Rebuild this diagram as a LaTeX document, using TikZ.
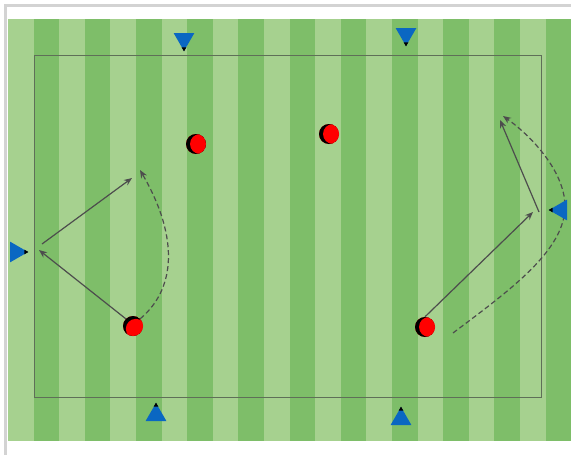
\documentclass[tikz,border=0pt]{standalone}
\usepackage{tikz}
\usetikzlibrary{arrows.meta,positioning,shapes.geometric,calc}
\definecolor{pitchLight}{HTML}{A6D18F}
\definecolor{pitchDark}{HTML}{7EBE69}
\definecolor{coneBlue}{HTML}{0A67C2}
\definecolor{runGray}{HTML}{4D4D4D}
\definecolor{frameGray}{HTML}{D3D3D3}
\definecolor{lineGray}{HTML}{5F6F58}
\tikzset{
    % Players and cones
    redplayer/.style={circle, fill=red, minimum size=20pt, inner sep=0pt,
        path picture={\fill[black] (path picture bounding box.center) circle (10pt);
            \fill[red] ([shift={(#1:4pt)}]path picture bounding box.center) circle (10pt);}},
    cone/.style={regular polygon, regular polygon sides=3, fill=coneBlue, minimum size=24pt, inner sep=0pt, shape border rotate=#1},
    % Runs
    run/.style={draw=runGray, line width=1.2pt, -{Stealth[length=8pt,width=6.5pt]}},
    dribble/.style={run, dash pattern=on 5pt off 3pt}
}

\begin{document}
\begin{tikzpicture}[x=1pt, y=-1pt]

    % Frame
    \useasboundingbox[fill=white] (0,0) rectangle (571,455);
    \draw[frameGray, line width=3pt] (5,455) -- (5,5) -- (571,5);

    % Pitch stripes
    \foreach \i in {0,...,21}{
        \pgfmathsetmacro{\xa}{8+25.6*\i}
        \ifodd\i \def\stripe{pitchDark}\else \def\stripe{pitchLight}\fi
        \fill[\stripe] (\xa,19) rectangle ++(25.6,422);
    }
    \draw[lineGray, line width=0.8pt] (34,55) rectangle (541,397);

    % Players
    \node[redplayer=0] (pt1) at (196,144) {};
    \node[redplayer=0] (pt2) at (329,134) {};
    \node[redplayer=-45] (pl) at (133,326) {};
    \node[redplayer=0] (pr) at (425,327) {};

    % Run targets
    \coordinate (lwall) at (39,250);
    \coordinate (lturn) at (42,244);
    \coordinate (ltarget) at (132,178);
    \coordinate (lcurl) at (140,170);
    \coordinate (rstart) at (453,333);
    \coordinate (rturn) at (533,212);
    \coordinate (rturn2) at (539,212);
    \coordinate (rtarget) at (500,120);
    \coordinate (rcurl) at (503,116);

    % Left drill
    \draw[run] (pl.north west) -- (lwall);
    \draw[run] (lturn) -- (ltarget);
    \draw[dribble] (pl.north east) .. controls (180,285) and (175,230) .. (lcurl);

    % Right drill
    \draw[run] (pr.north) -- (rturn);
    \draw[run] (rturn2) -- (rtarget);
    \draw[dribble] (rstart) .. controls (510,290) and (566,250) .. (565,205)
        .. controls (564,170) and (530,135) .. (rcurl);

    % Cones
    \node[cone=180] (ct1) at (184,39) {};
    \node[cone=180] (ct2) at (406,34) {};
    \node[cone=-90] (cl) at (16,252) {};
    \node[cone=90] (cr) at (561,210) {};
    \node[cone=0] (cb1) at (156,415) {};
    \node[cone=0] (cb2) at (401,419) {};
    \foreach \c in {ct1,ct2,cl,cr,cb1,cb2}
        \fill[black] (\c.corner 1) -- ($(\c.corner 1)!0.22!(\c.corner 2)$) -- ($(\c.corner 1)!0.22!(\c.corner 3)$) -- cycle;

\end{tikzpicture}
\end{document}
